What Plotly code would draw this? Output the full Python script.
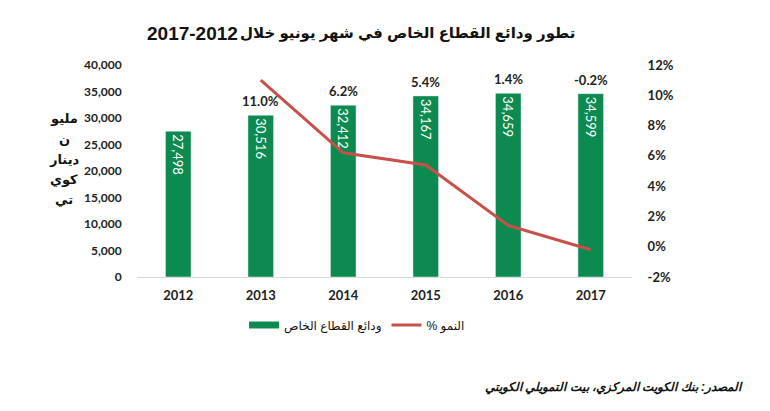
import plotly.graph_objects as go

years = ["2012", "2013", "2014", "2015", "2016", "2017"]
deposits = [27498, 30516, 32412, 34167, 34659, 34599]
growth_years = ["2013", "2014", "2015", "2016", "2017"]
growth = [11.0, 6.2, 5.4, 1.4, -0.2]
left_ticks = [0, 5000, 10000, 15000, 20000, 25000, 30000, 35000, 40000]
right_ticks = [-2, 0, 2, 4, 6, 8, 10, 12]

title_ar = "تطور ودائع القطاع الخاص في شهر يونيو خلال"
title_years = "2012-2017"
bar_name = "ودائع القطاع الخاص"
line_name = "% النمو"
ytitle_lines = ["مليو", "ن", "دينار", "كوي", "تي"]
source = "المصدر: بنك الكويت المركزي، بيت التمويلي الكويتي"

GREEN = "#0c8a4f"
RED = "#c8504b"
FONT = "Lato, 'DejaVu Sans', sans-serif"
AR = "'Liberation Sans', 'DejaVu Sans', sans-serif"

fig = go.Figure()
fig.add_trace(go.Bar(
    x=years, y=deposits, name=bar_name, marker_color=GREEN, width=0.31,
    text=[f"{v:,}" for v in deposits], textposition="inside",
    insidetextanchor="end", textangle=90,
    textfont=dict(color="white", size=13, family=FONT),
    yaxis="y", showlegend=False,
))
# legend entry for bars drawn as a thick swatch
fig.add_trace(go.Scatter(
    x=[years[0]], y=[None], name=bar_name, mode="lines",
    line=dict(color=GREEN, width=7), yaxis="y", showlegend=True,
))
fig.add_trace(go.Scatter(
    x=growth_years, y=growth, name=line_name, mode="lines",
    line=dict(color=RED, width=3), yaxis="y2",
))

for yr, g in zip(growth_years, growth):
    i = years.index(yr)
    fig.add_annotation(x=i, y=deposits[i], xref="x", yref="y", text=f"<b>{g:.1f}%</b>",
                       showarrow=False, yanchor="bottom", yshift=4,
                       font=dict(size=13, color="#222", family=FONT))

# y-axis title (wrapped as in the original)
for s, ypx in zip(ytitle_lines, [118, 139, 159, 179, 199]):
    fig.add_annotation(xref="paper", yref="paper", x=(64 - 137) / 495, y=(277 - ypx) / 212,
                       text=f"<b>{s}</b>", showarrow=False,
                       xanchor="center", yanchor="middle",
                       font=dict(size=13, color="#111", family=AR))

# title: arabic part + year range
fig.add_annotation(xref="paper", yref="paper", x=(577 - 137) / 495, y=(277 - 33) / 212,
                   text=f"<b>{title_ar}</b>", showarrow=False,
                   xanchor="right", yanchor="middle",
                   font=dict(size=15, color="#111", family=AR))
fig.add_annotation(xref="paper", yref="paper", x=(145 - 137) / 495, y=(277 - 33) / 212,
                   text=f"<b>{title_years[5:]}-{title_years[:4]}</b>", showarrow=False,
                   xanchor="left", yanchor="middle",
                   font=dict(size=19, color="#111", family="'Liberation Sans', Arial, sans-serif"))

fig.add_annotation(xref="paper", yref="paper", x=1.0 + (745 - 632) / 495, y=(277 - 387) / 212,
                   text=f"<b><i>{source}</i></b>", showarrow=False,
                   xanchor="right", yanchor="middle",
                   font=dict(size=12, color="#111", family=AR))

fig.update_layout(
    width=770, height=411,
    margin=dict(l=137, r=138, t=65, b=134),
    paper_bgcolor="white", plot_bgcolor="white",
    showlegend=True,
    legend=dict(orientation="h", x=(357 - 137) / 495, xanchor="center",
                y=(277 - 325) / 212, yanchor="middle",
                font=dict(size=12, color="#111", family=AR),
                itemwidth=30, tracegroupgap=0),
    xaxis=dict(type="category", categoryorder="array", categoryarray=years,
               range=[-0.5, 5.5],
               showline=True, linecolor="#d9d9d9", linewidth=1,
               tickfont=dict(size=13, color="#222", family=FONT),
               ticks="outside", ticklen=6, tickcolor="rgba(0,0,0,0)", showgrid=False),
    yaxis=dict(range=[0, 40000], tickvals=left_ticks,
               ticktext=[f"<b>{t:,}</b>" for t in left_ticks],
               showgrid=False, zeroline=False, ticks="outside", ticklen=12,
               tickcolor="rgba(0,0,0,0)",
               tickfont=dict(size=12, color="#222", family=FONT)),
    yaxis2=dict(range=[-2, 12], tickvals=right_ticks,
                ticktext=[f"<b>{t}%</b>" for t in right_ticks],
                overlaying="y", side="right", showgrid=False, zeroline=False,
                ticks="outside", ticklen=12, tickcolor="rgba(0,0,0,0)",
                tickfont=dict(size=13, color="#222", family=FONT)),
)
fig.update_xaxes(tickvals=years, ticktext=[f"<b>{y}</b>" for y in years])

fig.write_html("out.html")
